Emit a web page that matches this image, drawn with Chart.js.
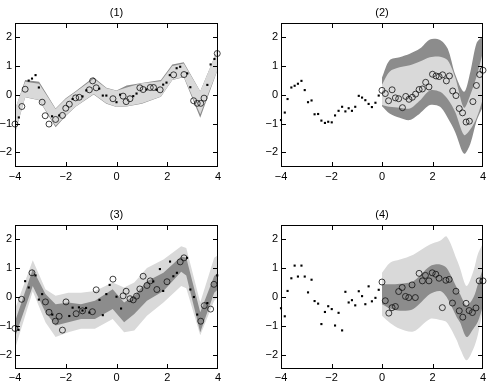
<!DOCTYPE html>
<html>
<head>
<meta charset="utf-8">
<script src="https://cdn.jsdelivr.net/npm/chart.js@4.4.1/dist/chart.umd.min.js"></script>
<style>
body { margin: 0; background: #fff; }
#wrap { position: relative; width: 491px; height: 382px; }
canvas { position: absolute; }
</style>
</head>
<body>
<div id="wrap">
<canvas id="c1" width="245" height="190" style="left:0;top:0"></canvas>
<canvas id="c2" width="246" height="190" style="left:245px;top:0"></canvas>
<canvas id="c3" width="245" height="192" style="left:0;top:190px"></canvas>
<canvas id="c4" width="246" height="192" style="left:245px;top:190px"></canvas>
</div>
<script>
// axis ticks
var xTicks = [-4, -2, 0, 2, 4];
var xTickLabels = ['\u22124', '\u22122', '0', '2', '4'];
var yTicks = [-2, -1, 0, 1, 2];
var yTickLabels = ['\u22122', '\u22121', '0', '1', '2'];
var titles = ['(1)', '(2)', '(3)', '(4)'];

// (1)
var p1DotX = [-3.85, -3.46, -3.33, -3.19, -3.06, -2.54, -2.26, -1.73, -1.34, -1.19, -0.68, -0.54, -0.4, 0, 0.14, 0.66, 0.79, 1.18, 1.58, 1.84, 1.97, 2.1, 2.37, 2.51, 2.79, 2.91, 3.58, 3.71, 3.86];
var p1DotY = [-0.79, 0.49, 0.56, 0.68, 0.25, -0.75, -0.72, -0.15, -0.06, 0.15, 0.21, -0.03, -0.03, -0.26, 0.0, -0.05, 0.04, 0.18, 0.17, 0.35, 0.42, 0.68, 0.92, 0.97, 0.74, 0.26, 0.34, 1.05, 1.24];
var p1CircX = [-4, -3.73, -3.6, -2.93, -2.81, -2.66, -2.4, -2.13, -2.0, -1.86, -1.61, -1.47, -1.07, -0.94, -0.8, -0.14, 0.26, 0.38, 0.53, 0.92, 1.05, 1.33, 1.46, 1.72, 2.25, 2.66, 3.04, 3.18, 3.32, 3.45, 3.97];
var p1CircY = [-1.02, -0.41, 0.19, -0.26, -0.73, -1.02, -0.86, -0.72, -0.47, -0.33, -0.11, -0.09, 0.17, 0.48, 0.24, -0.14, -0.05, -0.24, -0.14, 0.24, 0.18, 0.25, 0.25, 0.17, 0.69, 0.7, -0.21, -0.3, -0.3, -0.12, 1.43];
var p1BandX = [-4, -3.6, -3.05, -2.4, -2.0, -1.6, -0.9, -0.4, 0, 0.4, 1.0, 1.75, 2.2, 2.65, 3.3, 4];
var p1LightUp = [-0.5, 0.45, 0.38, -0.5, -0.15, 0.1, 0.55, 0.22, 0.14, 0.25, 0.4, 0.47, 1.0, 1.08, 0.12, 1.6];
var p1LightLo = [-1.35, -0.08, -0.18, -1.08, -0.72, -0.4, 0.02, -0.3, -0.42, -0.4, -0.3, -0.06, 0.52, 0.62, -0.68, 0.9];
var p1DarkUp = [-0.52, 0.51, 0.45, -0.48, -0.12, 0.13, 0.61, 0.24, 0.15, 0.32, 0.41, 0.51, 1.05, 1.13, 0.12, 1.6];
var p1DarkLo = [-1.35, -0.09, -0.19, -1.13, -0.74, -0.41, 0.01, -0.31, -0.43, -0.41, -0.31, -0.07, 0.51, 0.61, -0.8, 0.9];

// (2)
var p2DotX = [-4, -3.85, -3.74, -3.59, -3.46, -3.33, -3.19, -3.06, -2.93, -2.79, -2.67, -2.53, -2.4, -2.26, -2.13, -1.99, -1.86, -1.72, -1.58, -1.45, -1.32, -1.19, -1.06, -0.92, -0.79, -0.66, -0.53, -0.4, -0.26, -0.13];
var p2DotY = [-0.88, -0.62, -0.15, 0.25, 0.31, 0.38, 0.48, 0.16, -0.26, -0.2, -0.68, -0.67, -0.9, -0.98, -0.94, -0.96, -0.72, -0.56, -0.42, -0.58, -0.47, -0.56, -0.42, -0.04, -0.1, -0.19, -0.32, -0.43, -0.28, -0.03];
var p2CircX = [0, 0.13, 0.26, 0.4, 0.53, 0.66, 0.81, 0.94, 1.07, 1.2, 1.33, 1.47, 1.6, 1.73, 1.86, 2.0, 2.14, 2.26, 2.4, 2.55, 2.67, 2.8, 2.93, 3.06, 3.19, 3.33, 3.46, 3.6, 3.74, 3.87, 4.0];
var p2CircY = [0.15, 0.04, -0.21, 0.17, -0.11, -0.14, -0.45, -0.06, -0.16, -0.09, 0.02, 0.18, 0.2, 0.43, 0.27, 0.71, 0.65, 0.63, 0.69, 0.48, 0.65, 0.13, -0.03, -0.48, -0.63, -0.95, -0.92, -0.24, 0.32, 0.7, 0.85];
var p2BandX = [0, 0.3, 0.7, 1.1, 1.5, 1.9, 2.3, 2.6, 2.9, 3.25, 3.5, 3.75, 4];
var p2DarkUp = [0.6, 1.2, 1.3, 1.42, 1.6, 1.92, 1.9, 1.6, 0.7, 0.1, 0.8, 1.8, 2.05];
var p2LightUp = [0.35, 0.8, 0.95, 1.02, 1.15, 1.3, 1.32, 1.2, 0.6, -0.45, 0.0, 0.65, 1.48];
var p2LightLo = [-0.36, -0.42, -0.45, -0.48, -0.2, 0.15, 0.1, -0.15, -0.6, -1.4, -1.2, -0.8, -0.13];
var p2DarkLo = [-0.4, -0.65, -0.8, -0.88, -0.65, -0.36, -0.42, -0.8, -1.3, -2.05, -1.7, -0.9, -0.42];

// (3)
var p3DotX = [-3.86, -3.6, -3.46, -3.19, -3.06, -2.93, -2.53, -1.86, -1.73, -1.48, -1.34, -1.2, -1.07, -0.67, -0.54, -0.4, -0.27, 0, 0.18, 1.45, 1.71, 1.84, 2.11, 2.24, 2.38, 2.78, 2.91, 3.05, 3.18, 3.58, 3.97];
var p3DotY = [-1.14, 0.55, 0.33, 0.75, -0.09, 0.1, -0.61, -0.66, -0.37, -0.36, -0.47, -0.38, -0.54, -0.1, -0.63, 0.1, 0.42, 0.01, -0.4, 0.54, 0.97, 0.21, 1.23, 0.72, 0.84, 1.36, 0.26, 0, -0.61, -0.21, 0.75];
var p3CircX = [-4, -3.74, -3.33, -2.8, -2.66, -2.41, -2.26, -2.13, -1.99, -1.59, -1.34, -0.95, -0.8, -0.14, 0.26, 0.38, 0.53, 0.66, 0.79, 0.92, 1.05, 1.2, 1.33, 1.59, 1.99, 2.51, 2.66, 3.32, 3.46, 3.71, 3.84];
var p3CircY = [-1.09, -0.08, 0.84, -0.17, -0.53, -0.84, -0.67, -1.15, -0.17, -0.58, -0.48, -0.51, 0.25, 0.62, 0.04, 0.2, -0.06, -0.1, 0.03, 0.28, 0.72, 0.4, 0.56, 0.26, 0.53, 1.22, 1.36, -0.84, -0.3, -0.42, 0.44];
var p3BandX = [-4, -3.3, -2.8, -2.4, -1.9, -1.4, -0.85, -0.15, 0.3, 0.7, 1.2, 1.85, 2.55, 2.75, 3.3, 3.85, 4];
var p3DarkUp = [-0.85, 0.96, 0.1, -0.25, -0.19, -0.25, -0.13, 0.27, -0.19, 0.04, 0.55, 0.84, 1.41, 1.36, -0.53, 0.73, 0.84];
var p3DarkLo = [-1.39, 0.38, -0.53, -0.99, -0.88, -0.76, -0.76, -0.42, -0.88, -0.59, -0.13, 0.21, 0.88, 0.75, -1.22, 0.15, 0.27];
var p3LightUp = [-0.42, 1.28, 0.27, 0.04, 0.15, 0.15, 0.21, 0.5, 0.33, 0.5, 1.01, 1.3, 1.76, 1.7, -0.19, 1.36, 1.45];
var p3LightLo = [-1.8, 0.2, -0.88, -1.39, -1.22, -1.1, -1.1, -0.76, -1.22, -1.16, -0.65, -0.19, 0.38, 0.3, -1.33, -0.13, 0.0];

// (4)
var p4DotX = [-4, -3.85, -3.74, -3.59, -3.46, -3.33, -3.19, -3.06, -2.93, -2.79, -2.67, -2.53, -2.4, -2.26, -2.13, -1.99, -1.86, -1.72, -1.58, -1.45, -1.32, -1.19, -1.06, -0.92, -0.79, -0.66, -0.53, -0.4, -0.26, -0.13];
var p4DotY = [-0.39, -0.67, 0.21, 0.65, 1.09, 0.71, 1.09, 0.71, 0.16, 0.6, -0.14, -0.23, -0.94, -0.52, -0.32, -0.42, -0.99, -0.55, -1.16, 0.18, -0.19, -0.11, -0.29, 0.2, 0.03, -0.25, 0.37, -0.15, -0.03, 0.25];
var p4CircX = [0, 0.13, 0.27, 0.4, 0.53, 0.66, 0.8, 0.93, 1.06, 1.19, 1.32, 1.47, 1.6, 1.72, 1.86, 1.99, 2.13, 2.26, 2.39, 2.53, 2.66, 2.79, 2.93, 3.06, 3.2, 3.33, 3.45, 3.58, 3.72, 3.85, 4.0];
var p4CircY = [0.52, -0.13, -0.56, -0.37, -0.33, 0.19, 0.33, 0.02, -0.02, 0.42, -0.02, 0.82, 0.56, 0.75, 0.56, 0.84, 0.79, 0.65, -0.37, 0.58, 0.61, -0.21, 0.2, -0.48, -0.7, -0.22, -0.47, -0.54, -0.38, 0.56, 0.56];
var p4BandX = [0, 0.32, 0.71, 1.24, 1.9, 2.3, 2.56, 2.96, 3.09, 3.35, 3.62, 3.8, 4];
var p4LightUp = [0.84, 1.19, 1.3, 1.47, 1.82, 1.95, 2.1, 1.3, 1.0, 0.38, 0.9, 1.5, 1.87];
var p4LightLo = [-0.65, -0.9, -1.1, -1.2, -0.76, -0.8, -0.88, -1.5, -1.79, -2.2, -1.8, -1.3, -0.42];
var p4DarkUp = [0.44, 0.44, 0.46, 0.55, 1.07, 1.13, 1.01, 0.33, 0.1, -0.3, -0.02, 0.45, 1.01];
var p4DarkLo = [-0.25, -0.4, -0.48, -0.42, 0.1, 0.21, 0.0, -0.7, -0.88, -1.39, -1.1, -0.85, -0.3];

var LIGHT = '#d9d9d9';
var DARK = '#8c8c8c';
var FONT = '"Liberation Sans", Arial, Helvetica, sans-serif';

function pts(xs, ys) {
  return xs.map(function (x, i) { return { x: x, y: ys[i] }; });
}

// box, inward ticks on all four sides and the panel title (drawn with 1px rects)
var framePlugin = {
  id: 'frame',
  afterDraw: function (chart, args, opts) {
    var ctx = chart.ctx, a = chart.chartArea;
    var x = chart.scales.x, y = chart.scales.y;
    var L = Math.round(a.left), R = Math.round(a.right) - 1;
    var T = Math.round(a.top), B = Math.round(a.bottom) - 1;
    ctx.save();
    ctx.fillStyle = '#000';
    ctx.fillRect(L, T, R - L + 1, 1);
    ctx.fillRect(L, B, R - L + 1, 1);
    ctx.fillRect(L, T, 1, B - T + 1);
    ctx.fillRect(R, T, 1, B - T + 1);
    xTicks.forEach(function (v) {
      var px = Math.round(x.getPixelForValue(v));
      if (px >= R) px = R;
      ctx.fillRect(px, B - 4, 1, 4);
      ctx.fillRect(px, T + 1, 1, 4);
    });
    yTicks.forEach(function (v) {
      var py = Math.round(y.getPixelForValue(v));
      ctx.fillRect(L + 1, py, 4, 1);
      ctx.fillRect(R - 4, py, 4, 1);
    });
    ctx.font = '11px ' + FONT;
    ctx.textAlign = 'center';
    ctx.textBaseline = 'middle';
    ctx.fillText(opts.title, (a.left + a.right) / 2, a.top - 10);
    ctx.restore();
  }
};

function panel(id, title, geo, bands, dots, circles, tension) {
  var datasets = [
    { data: dots, showLine: false, pointStyle: 'rect', pointRadius: 1.5, backgroundColor: '#000', borderWidth: 0, order: 0, clip: false },
    { data: circles, showLine: false, pointStyle: 'circle', pointRadius: 3, borderColor: '#111', borderWidth: 0.8, backgroundColor: 'rgba(0,0,0,0)', order: 0, clip: false }
  ];
  bands.forEach(function (b, i) {
    datasets.push({ data: b.up, borderWidth: 0, pointRadius: 0, fill: false, tension: tension, order: 1 + i });
    datasets.push({ data: b.lo, borderWidth: 0, pointRadius: 0, fill: '-1', backgroundColor: b.color, tension: tension, order: 1 + i });
  });
  var tickFont = { family: FONT, size: 11 };
  return new Chart(document.getElementById(id), {
    type: 'line',
    data: { datasets: datasets },
    plugins: [framePlugin],
    options: {
      responsive: false,
      animation: false,
      devicePixelRatio: 1,
      events: [],
      layout: { padding: { top: geo.t, right: geo.w - geo.r, left: 0, bottom: 0 } },
      plugins: { legend: { display: false }, tooltip: { enabled: false }, frame: { title: title } },
      scales: {
        x: {
          type: 'linear', min: -4, max: 4,
          grid: { display: false, drawTicks: false }, border: { display: false },
          ticks: { padding: geo.pad, font: tickFont, color: '#000', autoSkip: false, maxRotation: 0,
            callback: function (v, i) { return xTickLabels[i]; } },
          afterBuildTicks: function (s) { s.ticks = xTicks.map(function (v) { return { value: v }; }); },
          afterFit: function (s) { s.height = geo.h - geo.b; }
        },
        y: {
          type: 'linear', min: -2.5, max: 2.5,
          grid: { display: false, drawTicks: false }, border: { display: false },
          ticks: { padding: 3, font: tickFont, color: '#000', autoSkip: false,
            callback: function (v, i) { return yTickLabels[i]; } },
          afterBuildTicks: function (s) { s.ticks = yTicks.map(function (v) { return { value: v }; }); },
          afterFit: function (s) { s.width = geo.l; }
        }
      }
    }
  });
}

panel('c1', titles[0], { w: 245, h: 190, l: 15, t: 22.7, r: 218, b: 166.7, pad: 4 },
  [{ up: pts(p1BandX, p1LightUp), lo: pts(p1BandX, p1LightLo), color: LIGHT },
   { up: pts(p1BandX, p1DarkUp), lo: pts(p1BandX, p1DarkLo), color: DARK }],
  pts(p1DotX, p1DotY), pts(p1CircX, p1CircY), 0);

panel('c2', titles[1], { w: 246, h: 190, l: 36, t: 22.7, r: 238, b: 166.7, pad: 4 },
  [{ up: pts(p2BandX, p2LightUp), lo: pts(p2BandX, p2LightLo), color: LIGHT },
   { up: pts(p2BandX, p2DarkUp), lo: pts(p2BandX, p2DarkLo), color: DARK }],
  pts(p2DotX, p2DotY), pts(p2CircX, p2CircY), 0.3);

panel('c3', titles[2], { w: 245, h: 192, l: 15, t: 35, r: 218, b: 179, pad: 2.5 },
  [{ up: pts(p3BandX, p3DarkUp), lo: pts(p3BandX, p3DarkLo), color: DARK },
   { up: pts(p3BandX, p3LightUp), lo: pts(p3BandX, p3LightLo), color: LIGHT }],
  pts(p3DotX, p3DotY), pts(p3CircX, p3CircY), 0);

panel('c4', titles[3], { w: 246, h: 192, l: 36, t: 35, r: 238, b: 179, pad: 2.5 },
  [{ up: pts(p4BandX, p4DarkUp), lo: pts(p4BandX, p4DarkLo), color: DARK },
   { up: pts(p4BandX, p4LightUp), lo: pts(p4BandX, p4LightLo), color: LIGHT }],
  pts(p4DotX, p4DotY), pts(p4CircX, p4CircY), 0.3);
</script>
</body>
</html>
